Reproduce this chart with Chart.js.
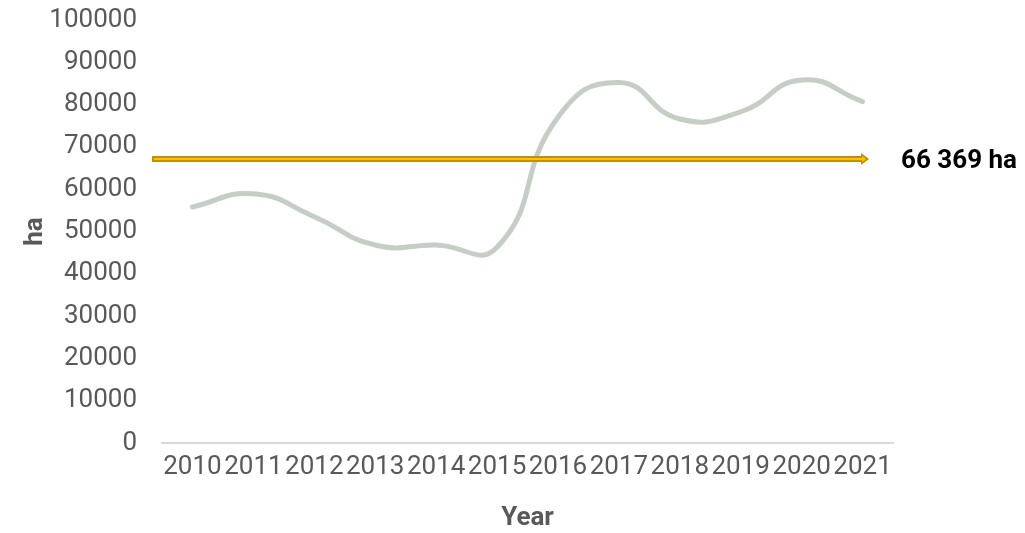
<!DOCTYPE html>
<html>
<head>
<meta charset="utf-8">
<script src="https://cdn.jsdelivr.net/npm/chart.js@4/dist/chart.umd.min.js"></script>
<style>
  html, body { margin: 0; padding: 0; background: #ffffff; }
  #wrap { width: 1025px; height: 533px; }
</style>
</head>
<body>
<div id="wrap"><canvas id="c" width="1025" height="533"></canvas></div>
<script>
const categories = ['2010','2011','2012','2013','2014','2015','2016','2017','2018','2019','2020','2021'];
const areaHa = [55800, 58900, 53500, 46800, 46800, 46300, 77000, 85200, 76600, 78300, 85800, 80700];
const averageLabel = '66 369 ha';
const averageLevel = 67100;
const yTicks = [0,10000,20000,30000,40000,50000,60000,70000,80000,90000,100000];

const arrowPlugin = {
  id: 'avgArrow',
  afterDatasetsDraw(chart) {
    const { ctx, chartArea, scales } = chart;
    const y = Math.round(scales.y.getPixelForValue(averageLevel));
    const x0 = chartArea.left - 10;
    const x1 = chartArea.right - 25;
    ctx.save();
    ctx.lineCap = 'butt';
    ctx.strokeStyle = '#BF9000';
    ctx.lineWidth = 6;
    ctx.beginPath(); ctx.moveTo(x0, y); ctx.lineTo(x1 - 4, y); ctx.stroke();
    ctx.fillStyle = '#BF9000';
    ctx.beginPath();
    ctx.moveTo(x1 - 7, y - 6);
    ctx.lineTo(x1 + 1, y);
    ctx.lineTo(x1 - 7, y + 6);
    ctx.closePath(); ctx.fill();
    ctx.fillStyle = '#FFC000';
    ctx.beginPath();
    ctx.moveTo(x1 - 6, y - 3);
    ctx.lineTo(x1 - 2, y);
    ctx.lineTo(x1 - 6, y + 3);
    ctx.closePath(); ctx.fill();
    ctx.strokeStyle = '#FFC000';
    ctx.lineWidth = 2;
    ctx.beginPath(); ctx.moveTo(x0 + 2, y); ctx.lineTo(x1 - 5, y); ctx.stroke();
    ctx.fillStyle = '#000000';
    ctx.font = 'bold 26px Roboto';
    ctx.textBaseline = 'middle';
    ctx.textAlign = 'left';
    ctx.fillText(averageLabel, 901, y + 2);
    ctx.restore();
  }
};

new Chart(document.getElementById('c'), {
  type: 'line',
  data: {
    labels: categories,
    datasets: [{
      data: areaHa,
      borderColor: '#C5CEC5',
      borderWidth: 5,
      borderCapStyle: 'round',
      borderJoinStyle: 'round',
      pointRadius: 0,
      tension: 0.5,
      fill: false
    }]
  },
  options: {
    responsive: false,
    animation: false,
    devicePixelRatio: 1,
    layout: { padding: { top: 20, right: 132, left: 0, bottom: 0 } },
    plugins: { legend: { display: false }, tooltip: { enabled: false } },
    scales: {
      x: {
        offset: true,
        grid: { display: false, drawTicks: false, offset: true },
        border: { display: true, color: '#D9D9D9', width: 2 },
        ticks: { color: '#595959', font: { family: 'Roboto', size: 26 }, padding: 9, maxRotation: 0, autoSkip: false },
        title: { display: true, text: 'Year', color: '#595959', font: { family: 'Roboto', size: 26, weight: 'bold', lineHeight: 1.1 }, padding: { top: 0, bottom: 0 } },
        afterFit(s) { s.height = 90; s.paddingLeft = 0; s.paddingRight = 0; }
      },
      y: {
        min: 0, max: 100000,
        afterBuildTicks(s) { s.ticks = yTicks.map(v => ({ value: v })); },
        grid: { display: false, drawTicks: false },
        border: { display: false },
        ticks: { color: '#595959', font: { family: 'Roboto', size: 26 }, padding: 25, callback: v => String(v) },
        title: { display: true, text: 'ha', color: '#595959', font: { family: 'Roboto', size: 26, weight: 'bold' }, padding: { top: 20, bottom: 0 } },
        afterFit(s) { s.width = 162; s.paddingTop = 0; s.paddingBottom = 0; }
      }
    }
  },
  plugins: [arrowPlugin]
});
</script>
</body>
</html>
